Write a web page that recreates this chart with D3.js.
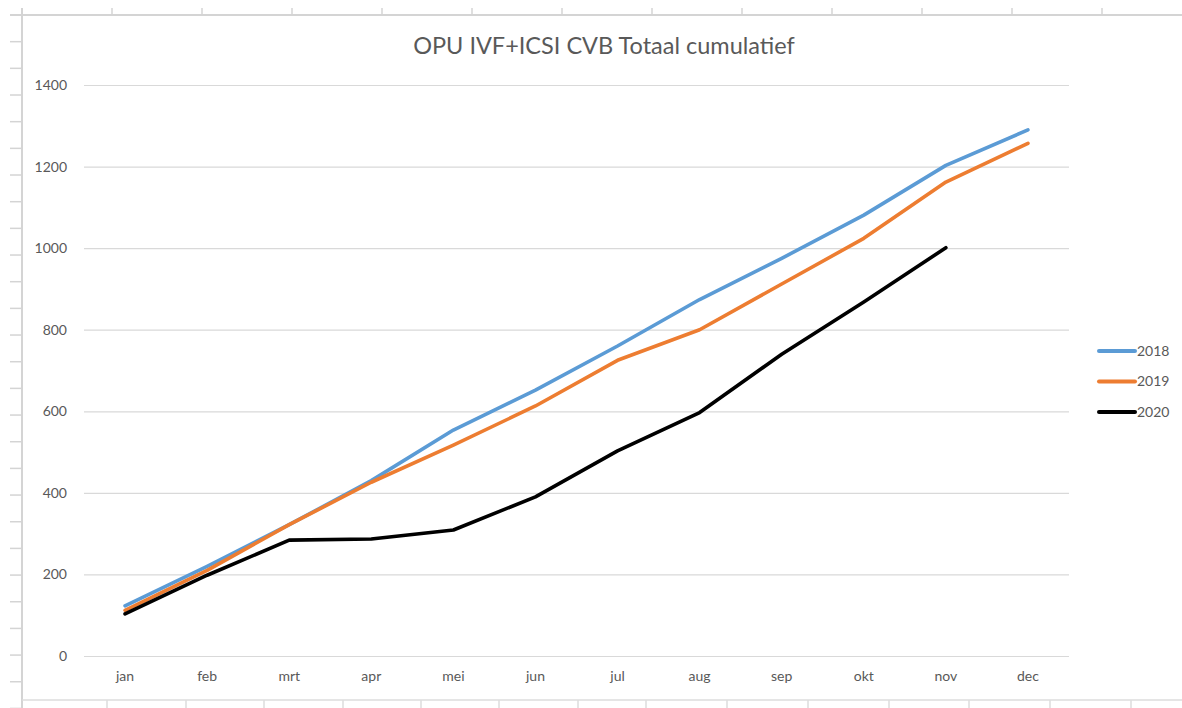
<!DOCTYPE html>
<html>
<head>
<meta charset="utf-8">
<script src="https://cdn.jsdelivr.net/npm/d3@7"></script>
<style>
  html, body { margin: 0; padding: 0; background: #fff; }
  svg { display: block; }
</style>
</head>
<body>
<svg id="chart" width="1182" height="708"></svg>
<script>
const months = ["jan","feb","mrt","apr","mei","jun","jul","aug","sep","okt","nov","dec"];
const values2018 = [123, 220, 322, 430, 554, 652, 760, 874, 975, 1081, 1203, 1290];
const values2019 = [112, 210, 322, 426, 517, 613, 725, 800, 912, 1024, 1162, 1257];
const values2020 = [103, 198, 284, 287, 309, 390, 503, 597, 740, 868, 1001];
const seriesNames = ["2018", "2019", "2020"];
const seriesColors = ["#5B9BD5", "#ED7D31", "#000000"];
const yTicks = [0, 200, 400, 600, 800, 1000, 1200, 1400];
const title = "OPU IVF+ICSI CVB Totaal cumulatief";

const allSeries = [values2018, values2019, values2020];

const W = 1182, H = 708;
const svg = d3.select("#chart");
const font = "Lato, 'Open Sans', sans-serif";
const textColor = "#595959";

// spreadsheet background decoration
const deco = svg.append("g");
const gridC = "#d4d4d4";
deco.append("line").attr("x1", 22).attr("x2", W).attr("y1", 15).attr("y2", 15)
  .attr("stroke", gridC).attr("stroke-width", 2);
deco.append("line").attr("x1", 22).attr("x2", 22).attr("y1", 8).attr("y2", H)
  .attr("stroke", gridC).attr("stroke-width", 2);
deco.append("line").attr("x1", 10).attr("x2", 22).attr("y1", 15).attr("y2", 15)
  .attr("stroke", gridC).attr("stroke-width", 2);
d3.range(1, 13).forEach(k => {
  const x = 22 + 90 * k;
  deco.append("line").attr("x1", x).attr("x2", x).attr("y1", 8).attr("y2", 15)
    .attr("stroke", gridC).attr("stroke-width", 1.5);
});
d3.range(1, 27).forEach(k => {
  const y = 15 + 26.67 * k;
  deco.append("line").attr("x1", 10).attr("x2", 22).attr("y1", y).attr("y2", y)
    .attr("stroke", gridC).attr("stroke-width", 1.5);
});
deco.append("line").attr("x1", 22).attr("x2", W).attr("y1", 700).attr("y2", 700)
  .attr("stroke", "#dcdcdc").attr("stroke-width", 1.5);
[107, 186, 264, 343, 421, 499, 578, 646, 727, 808, 889, 969, 1050, 1131].forEach(x => {
  deco.append("line").attr("x1", x).attr("x2", x).attr("y1", 700).attr("y2", H)
    .attr("stroke", "#dcdcdc").attr("stroke-width", 1.5);
});

// scales
const plotLeft = 84, plotRight = 1069, plotTop = 85, plotBottom = 656;
const x = d3.scaleBand().domain(months).range([plotLeft, plotRight]);
const xc = m => x(m) + x.bandwidth() / 2;
const y = d3.scaleLinear().domain([0, 1400]).range([plotBottom, plotTop]);

// gridlines
const yAxis = d3.axisLeft(y).tickValues(yTicks).tickFormat(d3.format("d"))
  .tickSize(-(plotRight - plotLeft)).tickPadding(17);
const gy = svg.append("g").attr("transform", `translate(${plotLeft},0)`).call(yAxis);
gy.select(".domain").remove();
gy.selectAll(".tick line").attr("stroke", "#d9d9d9").attr("stroke-width", 1.2);
gy.selectAll(".tick text").attr("fill", textColor).attr("font-family", font).attr("font-size", 14);

const xAxis = d3.axisBottom(x).tickSize(0).tickPadding(15);
const gx = svg.append("g").attr("transform", `translate(0,${plotBottom})`).call(xAxis);
gx.select(".domain").remove();
gx.selectAll(".tick text").attr("fill", textColor).attr("font-family", font).attr("font-size", 14);

// lines
const line = d3.line().x((d, i) => xc(months[i])).y(d => y(d));
allSeries.forEach((vals, si) => {
  svg.append("path").datum(vals)
    .attr("d", line)
    .attr("fill", "none")
    .attr("stroke", seriesColors[si])
    .attr("stroke-width", 3.6)
    .attr("stroke-linejoin", "round")
    .attr("stroke-linecap", "round");
});

// title
svg.append("text").attr("x", 604).attr("y", 54).attr("text-anchor", "middle")
  .attr("font-family", font).attr("font-size", 23.5).attr("fill", textColor)
  .text(title);

// legend
const leg = svg.append("g");
seriesNames.forEach((name, i) => {
  const ly = 351 + i * 30.5;
  leg.append("line").attr("x1", 1099).attr("x2", 1135).attr("y1", ly).attr("y2", ly)
    .attr("stroke", seriesColors[i]).attr("stroke-width", 4).attr("stroke-linecap", "round");
  leg.append("text").attr("x", 1137).attr("y", ly).attr("dy", "0.35em")
    .attr("font-family", font).attr("font-size", 14).attr("fill", textColor).text(name);
});
</script>
</body>
</html>
